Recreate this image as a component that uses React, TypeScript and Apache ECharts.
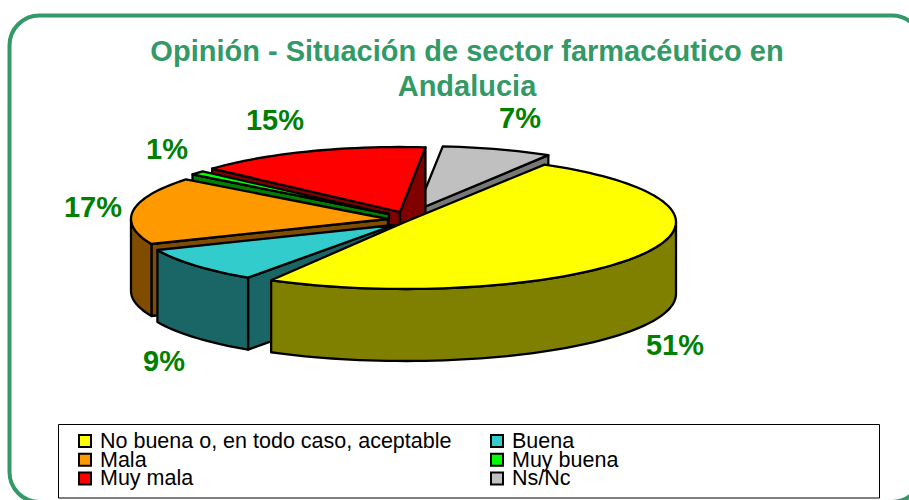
import React, { useEffect, useRef } from "react";
import * as echarts from "echarts";

const categories = ["No buena o, en todo caso, aceptable", "Buena", "Mala", "Muy buena", "Muy mala", "Ns/Nc"];
const values = [51, 9, 17, 1, 15, 7];
const topColors = ["#FFFF00", "#33CCCC", "#FF9900", "#00FF00", "#FF0000", "#C0C0C0"];
const wallColors = ["#808000", "#1A6666", "#804D00", "#008000", "#800000", "#787878"];
const legendOrder = [0, 1, 2, 3, 4, 5];

// 3D pie layout: where each exploded wedge sits, how big it looks, and where its label goes
const wedgeLayout = [
  { cx: 405, cy: 222, a: 271, b: 67, endTrim: 5, lx: 675, ly: 345 },
  { cx: 394, cy: 225, a: 257, b: 64, endTrim: 0, lx: 164, ly: 361 },
  { cx: 388, cy: 219, a: 257, b: 64, endTrim: 0, lx: 93, ly: 207 },
  { cx: 389, cy: 214, a: 250, b: 64, endTrim: 0, lx: 167, ly: 149 },
  { cx: 400, cy: 212, a: 252, b: 65, endTrim: 0, lx: 275, ly: 120 },
  { cx: 417, cy: 210, a: 255, b: 64, endTrim: 0, lx: 520, ly: 118 },
];
const START_ANGLE = 59;
const DEPTH = 72;
const LABEL_GREEN = "#008000";
const TITLE_GREEN = "#339966";
const FONT = '"Liberation Sans", Arial, sans-serif';

const total = values.reduce((s, v) => s + v, 0);
const rad = (d: number) => (d * Math.PI) / 180;

function arcPoints(l: any, t1: number, t2: number, dy = 0) {
  const n = Math.max(2, Math.ceil(Math.abs(t2 - t1) / 2));
  const pts: number[][] = [];
  for (let i = 0; i <= n; i++) {
    const t = rad(t1 + ((t2 - t1) * i) / n);
    pts.push([l.cx + l.a * Math.cos(t), l.cy - l.b * Math.sin(t) + dy]);
  }
  return pts;
}

function renderWedge(params: any, api: any) {
  const idx = api.value(1) as number;
  const value = api.value(0) as number;
  const l = wedgeLayout[idx];
  let before = 0;
  for (let i = 0; i < idx; i++) before += values[i];
  const tStart = START_ANGLE - (before / total) * 360;
  const tEnd = tStart - (value / total) * 360 + l.endTrim;
  const wall = wallColors[idx];
  const line = { stroke: "#000", lineWidth: 2.3, lineJoin: "round" };
  const children: any[] = [];
  const apex = [l.cx, l.cy];
  const quad = (t: number) => {
    const q = arcPoints(l, t, t, 0)[0];
    return [apex, q, [q[0], q[1] + DEPTH], [apex[0], apex[1] + DEPTH]];
  };
  if (Math.cos(rad(tStart)) < 0) {
    children.push({ type: "polygon", shape: { points: quad(tStart) }, style: { fill: wall, ...line } });
  }
  if (Math.cos(rad(tEnd)) > 0) {
    children.push({ type: "polygon", shape: { points: quad(tEnd) }, style: { fill: wall, ...line } });
  }
  // outer wall: the part of the rim on the viewer's side (angles -180..0)
  const a1 = Math.min(tStart, 0);
  const a2 = Math.max(tEnd, -180);
  if (a1 > a2) {
    const top = arcPoints(l, a1, a2);
    const bottom = arcPoints(l, a2, a1, DEPTH);
    children.push({ type: "polygon", shape: { points: [...top, ...bottom] }, style: { fill: wall, ...line } });
  }
  children.push({
    type: "polygon",
    shape: { points: [apex, ...arcPoints(l, tStart, tEnd)] },
    style: { fill: topColors[idx], ...line },
  });
  return { type: "group", children };
}

export default function App() {
  const ref = useRef<HTMLDivElement>(null);
  useEffect(() => {
    document.body.style.margin = "0";
    const chart = echarts.init(ref.current!, undefined, { renderer: "svg" });
    const drawOrder = values.map((_, i) => i).reverse();
    const legendItems: any[] = [];
    legendOrder.forEach((i) => {
      const col = i % 2;
      const row = Math.floor(i / 2);
      const sx = col === 0 ? 79 : 491;
      const rowY = 441 + row * 18.7;
      legendItems.push({
        type: "rect",
        shape: { x: sx, y: rowY - 6, width: 12, height: 12 },
        style: { fill: topColors[i], stroke: "#000", lineWidth: 2 },
      });
      legendItems.push({
        type: "text",
        style: {
          text: categories[i], x: sx + 21, y: rowY, fill: "#000",
          font: `21.5px ${FONT}`, lineHeight: 18, textVerticalAlign: "middle", textAlign: "left",
        },
      });
    });
    const labelItems = values.map((v, i) => ({
      type: "text",
      z: 10,
      style: {
        text: `${v}%`, x: wedgeLayout[i].lx, y: wedgeLayout[i].ly, fill: LABEL_GREEN,
        font: `bold 29px ${FONT}`, textAlign: "center", textVerticalAlign: "middle",
      },
    }));
    chart.setOption({
      animation: false,
      backgroundColor: "#fff",
      title: {
        text: "Opinión - Situación de sector farmacéutico en\nAndalucia",
        left: 462,
        top: 28,
        textAlign: "center",
        textStyle: { color: TITLE_GREEN, fontFamily: FONT, fontWeight: "bold", fontSize: 29, lineHeight: 35 },
      },
      series: [
        {
          type: "custom",
          coordinateSystem: "none",
          renderItem: renderWedge,
          silent: true,
          data: drawOrder.map((i) => ({ name: categories[i], value: [values[i], i] })),
        },
      ],
      graphic: [
        {
          type: "rect",
          z: -1,
          shape: { x: 9.5, y: 15.5, width: 912.5, height: 486.5, r: 30 },
          style: { fill: "#fff", stroke: TITLE_GREEN, lineWidth: 4 },
        },
        {
          type: "rect",
          z: 5,
          shape: { x: 58.5, y: 424.5, width: 821, height: 73.5 },
          style: { fill: "#fff", stroke: "#000", lineWidth: 1 },
        },
        ...legendItems.map((e) => ({ ...e, z: 6 })),
        ...labelItems,
      ],
    });
    return () => chart.dispose();
  }, []);
  return <div ref={ref} style={{ width: 909, height: 500 }} />;
}
